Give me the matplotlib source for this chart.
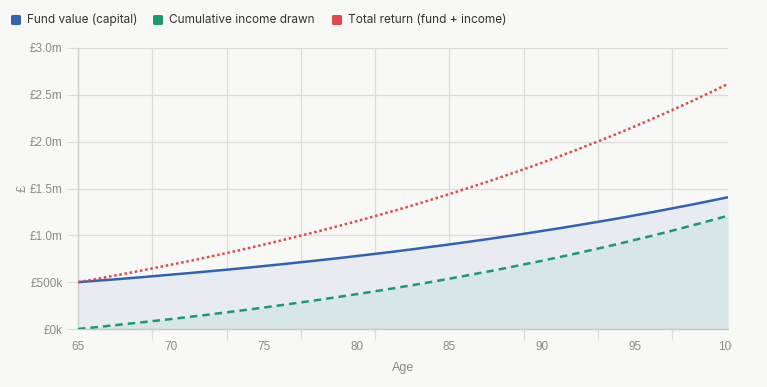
import matplotlib
matplotlib.use("Agg")
import matplotlib.pyplot as plt
from matplotlib.patches import FancyBboxPatch
from matplotlib.transforms import Bbox

ages = list(range(65, 101))
fund_value = [500, 515, 530, 546, 563, 580, 597, 615, 633, 652, 672, 692, 713, 734, 756,
              779, 802, 826, 851, 877, 903, 930, 958, 987, 1016, 1047, 1078, 1111, 1144,
              1178, 1214, 1250, 1288, 1326, 1366, 1407]
income_drawn = [0, 20, 41, 62, 84, 106, 129, 153, 178, 203, 229, 256, 284, 312, 342,
                372, 403, 435, 468, 502, 537, 574, 611, 649, 689, 729, 771, 814, 859,
                904, 952, 1000, 1050, 1102, 1155, 1209]
total_return = [500, 535, 571, 608, 647, 686, 726, 768, 811, 855, 901, 948, 997, 1046,
                1098, 1151, 1205, 1261, 1319, 1379, 1440, 1504, 1569, 1636, 1705, 1776,
                1849, 1925, 2003, 2082, 2165, 2250, 2338, 2428, 2521, 2616]
series_names = ["Fund value (capital)", "Cumulative income drawn", "Total return (fund + income)"]
x_tick_labels = ["65", "70", "75", "80", "85", "90", "95", "100"]
y_ticks_k = [0, 500, 1000, 1500, 2000, 2500, 3000]
y_tick_labels = ["£0k", "£500k", "£1.0m", "£1.5m", "£2.0m", "£2.5m", "£3.0m"]

BG = "#f8f8f6"
BLUE = "#3163b0"
GREEN = "#1b9a70"
RED = "#e2474b"
GRID = "#dcdcdc"
TICKC = "#8a8a8a"

W, H = 767, 387
fig = plt.figure(figsize=(W / 100, H / 100), dpi=100, facecolor=BG)
L, R, T, B = 78, 728, 48, 329
ax = fig.add_axes([L / W, 1 - B / H, (R - L) / W, (B - T) / H], facecolor=BG)

ax.fill_between(ages, fund_value, 0, color="#e8ebf0", zorder=1, lw=0)
ax.fill_between(ages, income_drawn, 0, color="#d7e6e6", zorder=2, lw=0)
ax.plot(ages, fund_value, color=BLUE, lw=1.8, zorder=5, solid_capstyle="butt")
ax.plot(ages, income_drawn, color=GREEN, lw=1.8, ls=(0, (3, 2)), zorder=5)
ax.plot(ages, total_return, color=RED, lw=1.8, ls=(0, (1, 1.1)), zorder=5)

ax.set_xlim(ages[0], ages[-1])
ax.set_ylim(0, 3000)

for a in ages[::4]:
    if a != ages[0]:
        ax.axvline(a, color=GRID, lw=0.9, zorder=0.5)
for v in y_ticks_k[1:]:
    ax.axhline(v, color=GRID, lw=0.9, zorder=0.5)

ax.set_yticks(y_ticks_k)
ax.set_yticklabels(y_tick_labels)
ax.set_xticks(ages[::4], minor=True)
ax.set_xticks([int(s) for s in x_tick_labels])
ax.set_xticklabels(x_tick_labels)
ax.tick_params(axis="x", which="major", length=0, pad=9, labelsize=8.5, labelcolor=TICKC)
ax.tick_params(axis="x", which="minor", length=8, color=GRID, width=0.9)
ax.tick_params(axis="y", length=8, color=GRID, width=0.9, pad=3, labelsize=8.5, labelcolor=TICKC)
for lab in ax.get_xticklabels() + ax.get_yticklabels():
    lab.set_fontfamily("Liberation Sans")

for s in ["top", "right"]:
    ax.spines[s].set_visible(False)
ax.spines["left"].set_color("#cfcfcf")
ax.spines["bottom"].set_color("#c8c8c8")
ax.spines["left"].set_linewidth(1.0)
ax.spines["bottom"].set_linewidth(1.0)

ax.set_xlabel("Age", fontsize=9, color=TICKC, labelpad=6, family="Liberation Sans")
ax.set_ylabel("£", fontsize=9, color=TICKC, family="Liberation Sans")
ax.yaxis.set_label_coords((29 - L) / (R - L), 0.5)

fig.canvas.draw()
clip = Bbox.from_extents(0, 0, 732, H)
for lab in ax.get_xticklabels():
    if lab.get_text() == "100":
        lab.set_clip_box(clip)
        lab.set_clip_on(True)

colors = [BLUE, GREEN, RED]
xs = [11, 153, 332]
ly = 20
for name, c, x0 in zip(series_names, colors, xs):
    sq = FancyBboxPatch((x0 / W, 1 - (ly + 5) / H), 10 / W, 10 / H,
                        boxstyle="round,pad=0,rounding_size=0.003",
                        transform=fig.transFigure, facecolor=c, edgecolor="none")
    fig.patches.append(sq)
    fig.text((x0 + 16) / W, 1 - ly / H, name, fontsize=8.5, color="#333333",
             va="center", ha="left", family="Inter")

fig.savefig("out.png", dpi=100, facecolor=BG)
